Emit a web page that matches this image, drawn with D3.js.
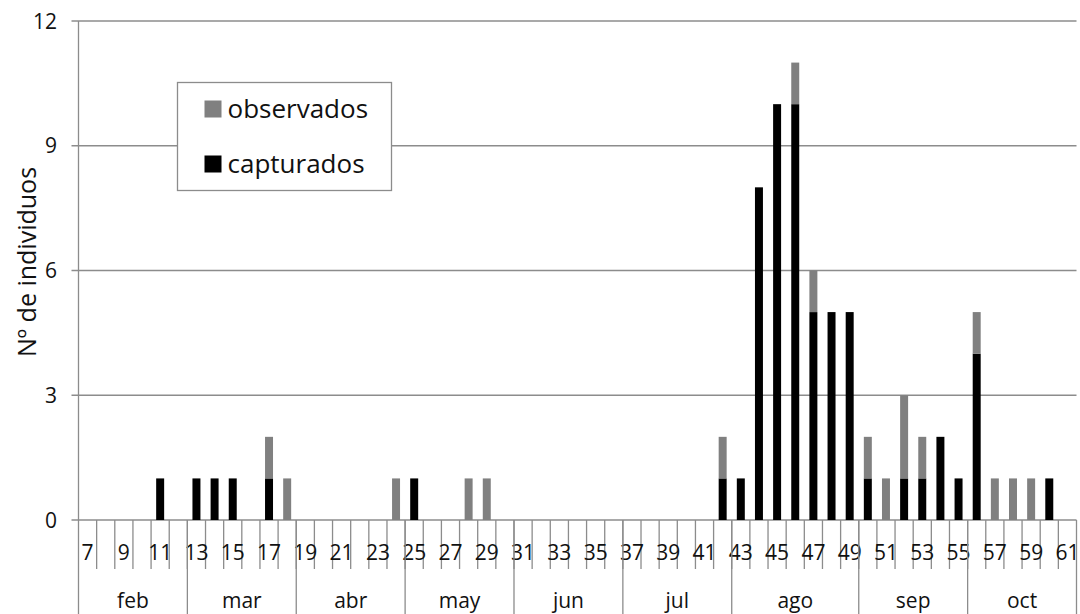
<!DOCTYPE html>
<html>
<head>
  <meta charset="utf-8">
  <script src="https://d3js.org/d3.v7.min.js"></script>
  <style>
    body { margin: 0; background: #fff; }
    text { font-family: "Open Sans", sans-serif; fill: #111; }
  </style>
</head>
<body>
<script type="text/javascript">
  "use strict";

  // Semanas (categorias del eje x)
  var semanas = [7, 8, 9, 10, 11, 12, 13, 14, 15, 16, 17, 18, 19, 20, 21, 22, 23, 24,
                 25, 26, 27, 28, 29, 30, 31, 32, 33, 34, 35, 36, 37, 38, 39, 40, 41, 42,
                 43, 44, 45, 46, 47, 48, 49, 50, 51, 52, 53, 54, 55, 56, 57, 58, 59, 60, 61];

  var capturados = [0, 0, 0, 0, 1, 0, 1, 1, 1, 0, 1, 0, 0, 0, 0, 0, 0, 0,
                    1, 0, 0, 0, 0, 0, 0, 0, 0, 0, 0, 0, 0, 0, 0, 0, 0, 1,
                    1, 8, 10, 10, 5, 5, 5, 1, 0, 1, 1, 2, 1, 4, 0, 0, 0, 1, 0];

  var observados = [0, 0, 0, 0, 0, 0, 0, 0, 0, 0, 1, 1, 0, 0, 0, 0, 0, 1,
                    0, 0, 0, 1, 1, 0, 0, 0, 0, 0, 0, 0, 0, 0, 0, 0, 0, 1,
                    0, 0, 0, 1, 1, 0, 0, 1, 1, 2, 1, 0, 0, 1, 1, 1, 1, 0, 0];

  var meses = ["feb", "mar", "abr", "may", "jun", "jul", "ago", "sep", "oct"];
  var semanasPorMes = [6, 6, 6, 6, 6, 6, 7, 6, 6];

  var yTicks = [0, 3, 6, 9, 12];

  var W = 1080, H = 614;
  var plotLeft = 78.5, plotRight = 1076.5, plotTop = 21, plotBottom = 520;
  var grey = "#8c8c8c";

  var svg = d3.select("body").append("svg")
      .attr("width", W)
      .attr("height", H);

  var data = semanas.map(function(s, i) {
    return { semana: s, capturados: capturados[i], observados: observados[i] };
  });

  var x = d3.scaleBand().domain(semanas).range([plotLeft, plotRight]).padding(0);
  var y = d3.scaleLinear().domain([0, 12]).range([plotBottom, plotTop]);

  // Gridlines + tick marks
  svg.append("g").selectAll("line")
    .data(yTicks)
    .join("line")
      .attr("x1", plotLeft - 7)
      .attr("x2", plotRight)
      .attr("y1", function(d) { return y(d); })
      .attr("y2", function(d) { return y(d); })
      .attr("stroke", grey)
      .attr("stroke-width", 1.3);

  svg.append("g").selectAll("text")
    .data(yTicks)
    .join("text")
      .attr("x", 57)
      .attr("y", function(d) { return y(d); })
      .attr("dy", "0.36em")
      .attr("text-anchor", "end")
      .style("font-size", "21px")
      .text(function(d) { return d; });

  // Stacked bars
  var series = d3.stack().keys(["capturados", "observados"])(data);
  var colors = { capturados: "#000000", observados: "#808080" };
  var barW = x.bandwidth() * 0.44;

  svg.append("g").selectAll("g")
    .data(series)
    .join("g")
      .attr("fill", function(d) { return colors[d.key]; })
    .selectAll("rect")
    .data(function(d) { return d.filter(function(p) { return p[1] > p[0]; }); })
    .join("rect")
      .attr("x", function(d) { return x(d.data.semana) + (x.bandwidth() - barW) / 2; })
      .attr("width", barW)
      .attr("y", function(d) { return y(d[1]); })
      .attr("height", function(d) { return y(d[0]) - y(d[1]); });

  // Category ticks (week boundaries)
  svg.append("g").selectAll("line")
    .data(semanas.slice(1))
    .join("line")
      .attr("x1", function(d) { return x(d); })
      .attr("x2", function(d) { return x(d); })
      .attr("y1", plotBottom)
      .attr("y2", 569)
      .attr("stroke", grey)
      .attr("stroke-width", 1.3);

  // Week labels (odd weeks only)
  svg.append("g").selectAll("text")
    .data(semanas.filter(function(s) { return s % 2 === 1; }))
    .join("text")
      .attr("x", function(d) { return x(d) + x.bandwidth() / 2; })
      .attr("y", 560)
      .attr("text-anchor", "middle")
      .style("font-size", "21px")
      .text(function(d) { return d; });

  // Month groups
  var ini = 0, grupos = [];
  meses.forEach(function(m, i) {
    grupos.push({ mes: m, desde: semanas[ini], hasta: semanas[ini + semanasPorMes[i] - 1] });
    ini += semanasPorMes[i];
  });

  svg.append("g").selectAll("line")
    .data(grupos)
    .join("line")
      .attr("x1", function(d) { return x(d.hasta) + x.bandwidth(); })
      .attr("x2", function(d) { return x(d.hasta) + x.bandwidth(); })
      .attr("y1", plotBottom)
      .attr("y2", H)
      .attr("stroke", grey)
      .attr("stroke-width", 1.3);

  svg.append("g").selectAll("text")
    .data(grupos)
    .join("text")
      .attr("x", function(d) { return (x(d.desde) + x(d.hasta) + x.bandwidth()) / 2; })
      .attr("y", 608)
      .attr("text-anchor", "middle")
      .style("font-size", "21px")
      .text(function(d) { return d.mes; });

  // Y axis line
  svg.append("line")
    .attr("x1", plotLeft).attr("x2", plotLeft)
    .attr("y1", plotTop).attr("y2", H)
    .attr("stroke", grey)
    .attr("stroke-width", 1.3);

  // Y axis title
  svg.append("text")
    .attr("transform", "translate(36,262) rotate(-90)")
    .attr("text-anchor", "middle")
    .style("font-size", "25px")
    .text("Nº de individuos");

  // Legend
  var legend = svg.append("g").attr("transform", "translate(177.5,82.5)");
  legend.append("rect")
    .attr("width", 214)
    .attr("height", 108)
    .attr("fill", "#fff")
    .attr("stroke", grey)
    .attr("stroke-width", 1.3);

  var items = [["observados", colors.observados, 26.5], ["capturados", colors.capturados, 81.5]];
  items.forEach(function(it) {
    legend.append("rect")
      .attr("x", 27).attr("y", it[2] - 8.5)
      .attr("width", 17).attr("height", 17)
      .attr("fill", it[1]);
    legend.append("text")
      .attr("x", 50).attr("y", it[2])
      .attr("dy", "0.34em")
      .style("font-size", "26px")
      .text(it[0]);
  });
</script>
</body>
</html>
